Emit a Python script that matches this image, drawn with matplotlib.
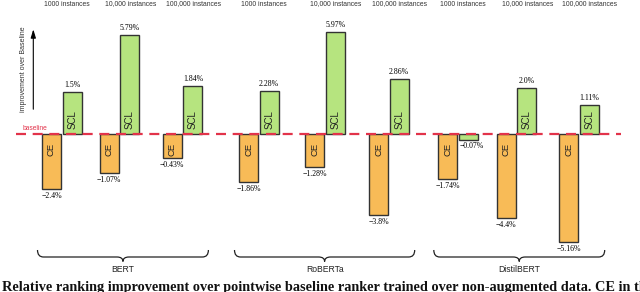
import numpy as np
import matplotlib.pyplot as plt
from matplotlib.path import Path
from matplotlib.patches import PathPatch

models = ["BERT", "RoBERTa", "DistilBERT"]
sizes = ["1000 instances", "10,000 instances", "100,000 instances"]

# printed values (%), one per (model, size)
ce_pct = [-2.4, -1.07, -0.43, -1.86, -1.28, -3.8, -1.74, -4.4, -5.16]
scl_pct = [1.5, 5.79, 1.84, 2.28, 5.97, 2.86, -0.07, 2.0, 1.11]

# bar lengths as drawn in the figure (the original is not to scale)
ce_drawn = [-3.22, -2.25, -1.38, -2.79, -1.90, -4.71, -2.63, -4.88, -6.30]
scl_drawn = [2.46, 5.76, 2.81, 2.48, 5.95, 3.18, -0.33, 2.69, 1.67]

caption = ("Relative ranking improvement over pointwise baseline ranker trained "
           "over non-augmented data. CE in the")

# layout (pixels)
W, H = 640, 292
BASE = 134.0
SCALE = 17.2
ce_left = np.array([42, 99.7, 162.7, 239, 305, 369, 438.3, 496.7, 559])
bw = 19.0
scl_left = ce_left + 20.7
hdr_shift = [5, 11, 11]

ce_col = "#f8bb57"
scl_col = "#b6e47f"
edge = "#333333"
red = "#e2334a"
sans = "Liberation Sans"
serif = "Liberation Serif"


def py(p):
    # pixel row -> data y
    return (BASE - p) / SCALE


def fmt(v):
    s = f"{abs(v)}%"
    return ("\u2212" + s) if v < 0 else s


fig = plt.figure(figsize=(6.4, 2.92), dpi=100)
ax = fig.add_axes([0, 0, 1, 1])
ax.set_xlim(0, W)
ax.set_ylim(py(H), py(0))
ax.axis("off")

ax.bar(ce_left, ce_drawn, width=bw, align="edge", color=ce_col,
       edgecolor=edge, linewidth=1.0, zorder=2)
ax.bar(scl_left, scl_drawn, width=bw, align="edge", color=scl_col,
       edgecolor=edge, linewidth=1.0, zorder=2)

off = 7 / SCALE
for i in range(len(ce_pct)):
    cx = ce_left[i] + bw / 2
    sx = scl_left[i] + bw / 2
    ax.text(cx, ce_drawn[i] - off, fmt(ce_pct[i]), ha="center", va="center",
            family=serif, fontsize=5.6)
    ax.text(cx, py(149), "CE", rotation=90, ha="center", va="center",
            family=sans, fontsize=6.8, color="#222222", zorder=4)
    if scl_drawn[i] > 0:
        ax.text(sx, scl_drawn[i] + off, fmt(scl_pct[i]), ha="center", va="center",
                family=serif, fontsize=5.6)
        ax.text(sx, py(120), "SCL", rotation=90, ha="center", va="center",
                family=sans, fontsize=7, color="#222222", zorder=4)
    else:
        ax.text(sx + 3, scl_drawn[i] - off + 0.05, fmt(scl_pct[i]), ha="center",
                va="center", family=serif, fontsize=5.6)
    mid = (ce_left[i] + scl_left[i] + bw) / 2
    ax.text(mid + hdr_shift[i % 3], py(4), sizes[i % 3], ha="center", va="center",
            family=sans, fontsize=4.9, color="#333333")

# baseline
ax.plot([16, 621], [0, 0], color=red, lw=1.6, dashes=(4.5, 3), zorder=3)
ax.text(22.5, py(128.3), "baseline", color=red, family=sans, fontsize=4.8,
        ha="left", va="center")

# arrow + axis note
ax.annotate("", xy=(33.3, py(26.5)), xytext=(33.3, py(112)),
            arrowprops=dict(arrowstyle="-|>,head_length=0.5,head_width=0.15",
                            color="black", lw=0.8))
ax.text(24, py(69), "improvement over Baseline", rotation=90, ha="center",
        va="center", family=sans, fontsize=5.0, color="#333333")

# braces under each model
for g, name in enumerate(models):
    x0 = ce_left[3 * g] - 4.5
    x1 = scl_left[3 * g + 2] + bw + 6
    xm = (x0 + x1) / 2
    yt, yl, yp = py(250), py(257), py(261.5)
    verts = [(x0, yt), (x0, yl), (x0 + 6, yl),
             (xm - 6, yl), (xm, yl), (xm, yp),
             (xm, yl), (xm + 6, yl),
             (x1 - 6, yl), (x1, yl), (x1, yt)]
    codes = [Path.MOVETO, Path.CURVE3, Path.CURVE3,
             Path.LINETO, Path.CURVE3, Path.CURVE3,
             Path.CURVE3, Path.CURVE3,
             Path.LINETO, Path.CURVE3, Path.CURVE3]
    ax.add_patch(PathPatch(Path(verts, codes), fill=False, lw=0.9,
                           edgecolor="#222222"))
    ax.text(xm, py(269.5), name, ha="center", va="center", family=sans,
            fontsize=6.2, color="#222222")

ax.text(1.5, py(290.5), caption, ha="left", va="baseline", family=serif,
        fontweight="bold", fontsize=10.3, color="#111111")

fig.savefig("out.png", dpi=100)
